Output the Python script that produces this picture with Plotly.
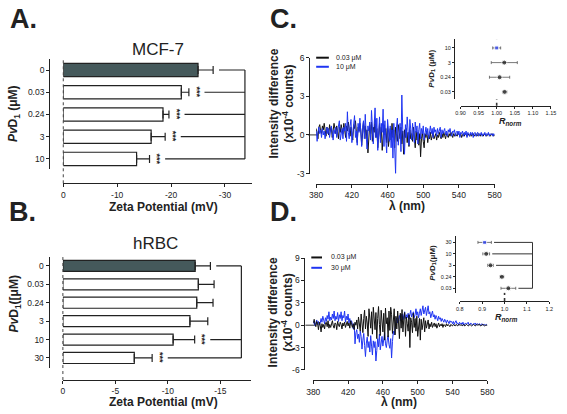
import plotly.graph_objects as go

W, H = 567, 414
FONT = "Liberation Sans, Arial, sans-serif"
INK = "#222222"
BLUE = "#1f35f2"
DARK = "#45595b"

# ---------------- data ----------------
# Panel A (MCF-7)
mcf_conc = ["0", "0.03", "0.24", "3", "10"]
mcf_zeta = [-25.0, -21.9, -18.5, -16.3, -13.6]
mcf_err = [2.8, 1.4, 1.1, 2.6, 2.4]
mcf_sig = ["", "***", "***", "***", "***"]
mcf_linked = [True, True, True, True, True]

# Panel B (hRBC)
rbc_conc = ["0", "0.03", "0.24", "3", "10", "30"]
rbc_zeta = [-12.6, -12.9, -12.75, -12.1, -10.5, -6.8]
rbc_err = [1.45, 1.5, 1.55, 1.7, 2.05, 1.7]
rbc_sig = ["", "", "", "", "***", "***"]
rbc_linked = [True, False, False, False, True, True]

# Spectra (x10^-4 counts), wavelength 380..580 nm, 1 nm step
wl = list(range(380, 581))
c_low = [0.5, 0.2, -0.3, 0.6, 0.8, 0.3, 0.1, 0.7, 0.4, 0.9,
         0.2, -0.1, 0.6, 0.5, 0.0, 0.8, 0.3, 0.6, -0.2, 0.4,
         0.9, 0.5, 0.1, 0.7, 0.3, -0.3, 0.6, 0.2, 0.8, 0.4,
         0.1, 0.9, 0.5, -0.2, 0.7, 0.3, 1.0, 0.4, -0.1, 0.6,
         0.2, -0.4, 0.8, 0.5, 1.1, 0.1, -0.6, 0.6, 0.3, 0.9,
         0.4, -0.8, 0.5, 1.0, 0.2, 0.7, -0.3, 0.4, -1.4, 0.3,
         0.8, 0.1, 1.0, -0.5, 0.6, 0.2, 1.2, -0.2, 0.5, -1.0,
         0.4, 0.9, -0.3, 0.6, -1.2, 0.3, 0.8, 0.0, 0.5, -0.6,
         0.7, -0.9, 0.3, 0.5, -0.4, 0.9, -0.2, 0.4, -1.0, 0.6,
         0.1, -0.5, 0.8, 0.2, -0.3, 0.6, -0.7, 0.3, -1.5, 0.4,
         -0.2, 0.5, -0.6, 0.2, -0.9, 0.4, -0.3, 0.1, -0.5, 0.6,
         -0.1, -1.0, 0.3, -0.4, 0.2, -0.8, 0.1, -1.7, -0.3, 0.2,
         -0.5, -1.0, 0.1, -0.2, 0.3, -0.6, 0.0, -0.3, 0.2, -0.4,
         -0.1, 0.2, -0.3, -0.1, 0.1, -0.4, 0.0, -0.2, 0.2, -0.1,
         -0.3, 0.1, -0.2, 0.2, -0.1, -0.3, 0.1, 0.0, -0.2, 0.1,
         -0.1, 0.2, 0.0, -0.2, 0.1, -0.1, 0.1, 0.0, -0.1, 0.2,
         0.0, -0.1, 0.1, -0.2, 0.0, 0.1, -0.1, 0.1, 0.0, -0.1,
         0.1, 0.0, -0.1, 0.1, -0.1, 0.0, 0.1, -0.1, 0.0, 0.1,
         -0.1, 0.0, 0.1, 0.0, -0.1, 0.1, 0.0, -0.1, 0.0, 0.1,
         0.0, -0.1, 0.0, 0.1, 0.0, -0.1, 0.0, 0.1, 0.0, -0.1,
         0.0]
c_high = [0.3, -0.5, 0.2, 0.6, 0.1, 0.4, -0.2, 0.5, 0.0, 0.3,
          -0.3, 0.4, 0.6, 0.1, 0.5, -0.2, 0.3, 0.7, 0.2, -0.4,
          0.4, 0.1, 0.6, -0.2, 0.3, 0.8, 1.1, -0.4, 0.2, 0.5,
          -0.3, 0.6, 0.3, 0.9, -0.5, 1.8, 0.2, -0.3, 0.7, 1.2,
          -0.6, 0.5, 0.8, 1.5, -0.2, 0.3, -0.8, 0.9, 0.2, 1.3,
          0.4, -0.9, 0.6, 1.1, -0.3, 1.6, 0.0, -1.1, 0.7, 0.3,
          1.0, -0.4, 1.9, 0.2, -0.7, 0.8, 2.1, -0.2, 1.3, -1.2,
          0.5, 1.4, -0.6, 0.9, 0.2, 2.0, -0.9, 1.1, -0.4, -1.4,
          1.2, 0.3, -0.5, 0.7, -1.0, 0.4, -1.8, 0.9, -1.2, -3.0,
          0.6, 1.3, -0.8, 0.2, 0.9, -1.3, 3.1, 0.4, -0.6, -1.5,
          0.8, -0.2, 1.4, 0.3, -0.8, 1.2, 0.1, -0.4, 0.9, 0.3,
          -0.6, 1.0, 0.2, 0.7, -0.7, 0.4, 0.9, -0.3, 0.5, 0.1,
          0.7, -0.4, 0.3, 0.6, 0.0, 0.5, -0.3, 0.4, 0.7, 0.1,
          0.5, -0.2, 0.6, 0.2, 0.4, -0.1, 0.5, 0.1, 0.3, 0.6,
          -0.2, 0.4, 0.1, 0.3, 0.5, 0.0, 0.3, -0.1, 0.4, 0.2,
          0.5, 0.1, -0.1, 0.3, 0.2, 0.4, -0.1, 0.2, 0.3, 0.0,
          0.3, -0.2, 0.2, 0.1, 0.3, -0.1, 0.2, 0.0, 0.3, -0.2,
          0.2, 0.1, -0.1, 0.2, 0.0, 0.2, -0.2, 0.1, 0.2, -0.1,
          0.1, 0.2, -0.1, 0.1, 0.0, 0.2, -0.1, 0.1, 0.0, 0.2,
          -0.1, 0.1, 0.0, 0.2, -0.1, 0.1, 0.0, 0.1, -0.1, 0.1,
          0.0]
d_low = [0.3, 0.8, 0.1, -0.2, 0.5, 0.2, -0.6, 0.4, 0.0, -0.9,
         0.2, -0.3, 0.1, -0.5, 0.3, 0.4, -0.2, 0.6, -0.4, 0.1,
         -0.3, 0.2, 0.6, -0.1, -0.4, 0.3, 0.2, -0.6, 0.5, 0.0,
         -0.2, 0.4, 0.1, -0.5, 0.3, -0.1, 0.4, -0.3, 0.2, 0.5,
         -0.1, 0.3, -0.4, 0.6, 0.1, -0.3, 0.2, -0.6, 0.4, 0.0,
         0.7, -0.5, 1.1, 0.2, -0.8, 1.5, 0.4, -1.0, 0.9, 2.0,
         -0.5, 1.2, 0.3, -1.5, 2.2, 0.6, -0.4, 1.8, -1.2, 2.4,
         0.3, -0.6, 1.7, -1.8, 0.9, 2.5, 0.1, -1.4, 2.0, 0.5,
         -0.9, 1.6, -2.0, 2.3, 0.2, 1.0, -1.6, 1.9, -0.7, 2.4,
         1.4, -1.1, 0.6, 2.2, -1.3, 1.2, -0.5, 1.9, 0.3, -1.8,
         1.6, -0.4, 2.1, -0.9, 0.8, 1.7, -1.5, 1.1, 0.2, -0.8,
         1.4, -3.0, 1.0, 0.4, -1.0, 1.6, -0.3, 0.9, -0.8, 1.2,
         -1.5, 0.5, 0.9, -2.0, 0.8, -0.6, 0.4, 1.0, -0.9, 0.6,
         -0.4, 0.3, 0.7, -0.5, 0.2, -0.2, 0.4, -0.3, 0.1, 0.3,
         -0.2, 0.2, -0.4, 0.1, 0.3, -0.2, 0.1, -0.1, 0.2, -0.3,
         0.1, 0.0, -0.2, 0.2, -0.1, 0.1, 0.0, -0.2, 0.1, 0.0,
         -0.1, 0.1, 0.0, -0.1, 0.1, 0.0, -0.1, 0.1, 0.0, 0.0,
         0.1, -0.1, 0.0, 0.1, -0.1, 0.0, 0.1, 0.0, -0.1, 0.0,
         0.1, 0.0, -0.1, 0.0, 0.1, 0.0, -0.1, 0.0, 0.1, 0.0,
         0.0, 0.1, -0.1, 0.0, 0.0, 0.1, 0.0, -0.1, 0.0, 0.0,
         0.0]
d_high = [0.2, 0.6, -0.1, 0.4, 0.7, 0.1, 0.5, 0.0, 0.3, 0.9,
          0.4, 1.2, 0.6, 0.2, 1.0, 0.5, 1.3, 0.8, 1.8, 0.6,
          1.1, 0.7, 1.5, 0.9, 1.9, 0.6, 1.2, 0.8, 1.7, 0.5,
          1.4, 0.9, 1.8, 0.6, 1.3, 1.0, 1.9, 0.4, 1.2, 0.7,
          1.5, 0.3, 0.9, 0.1, 0.6, -0.2, -0.5, 0.2, -2.5, -1.0,
          -0.6, -1.8, -1.2, -2.3, -0.8, -1.5, -3.2, -2.0, -1.1, -2.7,
          -4.2, -2.4, -1.6, -3.0, -2.2, -3.6, -1.4, -2.8, -4.0, -2.1,
          -3.0, -2.2, -4.8, -3.4, -1.8, -2.9, -1.2, -3.3, -2.4, -1.5,
          -2.8, -1.9, -1.0, -2.5, -3.0, -2.0, -1.4, -2.6, -3.1, -1.8,
          -4.4, -2.2, -0.8, -1.3, 0.2, 0.5, 1.0, 0.3, 0.8, 1.3,
          0.6, 1.0, 1.5, 0.7, 1.2, 1.8, 0.9, 1.4, 1.0, 1.6,
          0.8, 1.3, 2.0, 1.1, 1.5, 1.8, 1.0, 1.4, 2.2, 1.3,
          1.8, 1.0, 1.6, 2.2, 1.3, 1.9, 2.6, 1.5, 2.1, 2.4,
          1.3, 1.9, 2.6, 1.5, 1.8, 1.0, 1.4, 1.9, 1.1, 1.4,
          0.8, 1.3, 1.0, 0.6, 1.2, 0.8, 1.0, 0.5, 0.9, 0.7,
          0.4, 0.8, 0.6, 0.3, 0.7, 0.5, 0.2, 0.6, 0.4, 0.5,
          0.2, 0.5, 0.1, 0.4, 0.6, 0.2, 0.3, 0.0, 0.4, 0.2,
          0.3, 0.1, 0.4, 0.0, 0.2, 0.3, 0.1, 0.2, 0.4, 0.0,
          0.2, 0.3, 0.1, 0.0, 0.2, 0.1, 0.3, 0.0, 0.2, 0.1,
          0.1, 0.2, 0.0, 0.1, 0.2, 0.0, 0.1, 0.1, 0.0, 0.1,
          0.0]
c_legend = ["0.03 μM", "10 μM"]
d_legend = ["0.03 μM", "30 μM"]

# Insets (R_norm)
ci_conc = ["10", "3", "0.24", "0.03"]
ci_r = [1.000, 1.021, 1.008, 1.022]
ci_err = [0.011, 0.036, 0.028, 0.006]
di_conc = ["30", "10", "3", "0.24", "0.03"]
di_r = [0.911, 0.918, 0.937, 0.988, 1.017]
di_err = [0.030, 0.015, 0.013, 0.008, 0.033]
di_linked = [True, True, True, False, True]


# ---------------- helpers ----------------
def px(p):
    return p / W


def py(p):
    return 1 - p / H


def xaxis(d0, d1, rng, pos, tv, tt, fs, lw=1.2, tl=3):
    return dict(domain=[px(d0), px(d1)], range=rng, anchor="free", position=py(pos),
                showline=True, linecolor=INK, linewidth=lw, ticks="outside", ticklen=tl,
                tickwidth=lw, tickcolor=INK, tickvals=tv, ticktext=tt,
                tickfont=dict(size=fs, family=FONT, color=INK),
                showgrid=False, zeroline=False, fixedrange=True)


def yaxis(d0, d1, rng, pos, tv, tt, fs, lw=1.2, tl=3):
    return dict(domain=[py(d1), py(d0)], range=rng, anchor="free", position=px(pos),
                showline=True, linecolor=INK, linewidth=lw, ticks="outside", ticklen=tl,
                tickwidth=lw, tickcolor=INK, tickvals=tv, ticktext=tt,
                tickfont=dict(size=fs, family=FONT, color=INK),
                showgrid=False, zeroline=False, fixedrange=True)


fig = go.Figure()
shapes = []
ann = []


def text(x, y, s, size, bold=False, xa="center", ya="middle", angle=0, xref="paper", yref="paper",
         color=INK):
    t = "<b>" + s + "</b>" if bold else s
    ann.append(dict(x=x, y=y, xref=xref, yref=yref, text=t, showarrow=False, xanchor=xa,
                    yanchor=ya, textangle=angle, font=dict(size=size, family=FONT, color=color)))


# ---------------- bar panels ----------------
def bar_panel(ax, conc, zeta, err, sig, linked, ppu, bracket_x):
    n = len(conc)
    idx = list(range(n))
    fig.add_trace(go.Bar(
        x=zeta, y=idx, orientation="h", width=0.6,
        marker=dict(color=[DARK] + ["white"] * (n - 1), line=dict(color=INK, width=1.2)),
        error_x=dict(type="data", symmetric=False, array=[0] * n, arrayminus=err,
                     color=INK, thickness=1.2, width=4),
        xaxis="x" + ax, yaxis="y" + ax, showlegend=False, hoverinfo="skip"))
    shapes.append(dict(type="line", xref="x%s domain" % ax, yref="paper", x0=0, x1=0,
                       y0=fig.layout["xaxis" + ax].position, y1=fig.layout["yaxis" + ax].domain[1],
                       line=dict(color="#444", width=1, dash="dot")))
    ends = []
    for i in idx:
        end = zeta[i] - err[i]
        if sig[i]:
            sx = end - 8.0 / ppu
            text(sx, i, sig[i], 9, bold=True, angle=90, xref="x" + ax, yref="y" + ax)
            start = sx - 8.0 / ppu
        else:
            start = end - 6.0 / ppu
        if linked[i]:
            shapes.append(dict(type="line", xref="x" + ax, yref="y" + ax, x0=start, x1=bracket_x,
                               y0=i, y1=i, line=dict(color=INK, width=1.2)))
            ends.append(i)
    shapes.append(dict(type="line", xref="x" + ax, yref="y" + ax, x0=bracket_x, x1=bracket_x,
                       y0=min(ends), y1=max(ends), line=dict(color=INK, width=1.2)))


fig.update_layout(
    xaxis=xaxis(57.7, 251.7, [0, -35.1], 182.7, [0, -10, -20, -30], ["0", "-10", "-20", "-30"], 8.5),
    yaxis=yaxis(55, 168, [4.45, -0.51], 43.3, list(range(len(mcf_conc))), mcf_conc, 8.5),
    xaxis2=xaxis(57.3, 250, [0, -17.9], 384.3, [0, -5, -10, -15], ["0", "-5", "-10", "-15"], 8.5),
    yaxis2=yaxis(258.3, 371.7, [5.53, -0.48], 42.7, list(range(len(rbc_conc))), rbc_conc, 8.5),
    xaxis3=xaxis(317, 500, [380, 580], 183.3, [380, 420, 460, 500, 540, 580], None, 8.5),
    yaxis3=yaxis(54, 172.7, [-3, 6], 310, [-3, 0, 3, 6], ["-3", "0", "3", "6"], 8.5),
    xaxis4=xaxis(314, 492.5, [380, 580], 384.5, [380, 420, 460, 500, 540, 580], None, 8.5),
    yaxis4=yaxis(259.3, 374, [-6, 9], 305, [-6, -3, 0, 3, 6, 9], ["-6", "-3", "0", "3", "6", "9"], 8.5),
    xaxis5=xaxis(465, 557.7, [0.90, 1.15], 103.3, [0.90, 0.95, 1.00, 1.05, 1.10, 1.15],
                 ["0.90", "0.95", "1.00", "1.05", "1.10", "1.15"], 5.5, lw=1, tl=2),
    yaxis5=yaxis(35, 96.7, [3.51, -0.6], 458.3, list(range(len(ci_conc))), ci_conc, 5.5, lw=1, tl=2),
    xaxis6=xaxis(464.3, 556, [0.8, 1.2], 303.3, [0.8, 0.9, 1.0, 1.1, 1.2],
                 ["0.8", "0.9", "1.0", "1.1", "1.2"], 5.5, lw=1, tl=2),
    yaxis6=yaxis(236.7, 295, [4.4, -0.56], 459, list(range(len(di_conc))), di_conc, 5.5, lw=1, tl=2),
)

bar_panel("", mcf_conc, mcf_zeta, mcf_err, mcf_sig, mcf_linked, (251.7 - 57.7) / 35.1, -33.7)
bar_panel("2", rbc_conc, rbc_zeta, rbc_err, rbc_sig, rbc_linked, (250 - 57.3) / 17.9, -17.0)

# ---------------- spectra ----------------
fig.add_trace(go.Scatter(x=wl, y=c_low, mode="lines", line=dict(color="#111111", width=1),
                         xaxis="x3", yaxis="y3", showlegend=False, hoverinfo="skip"))
fig.add_trace(go.Scatter(x=wl, y=c_high, mode="lines", line=dict(color=BLUE, width=1),
                         xaxis="x3", yaxis="y3", showlegend=False, hoverinfo="skip"))
fig.add_trace(go.Scatter(x=wl, y=d_high, mode="lines", line=dict(color=BLUE, width=1),
                         xaxis="x4", yaxis="y4", showlegend=False, hoverinfo="skip"))
fig.add_trace(go.Scatter(x=wl, y=d_low, mode="lines", line=dict(color="#111111", width=1),
                         xaxis="x4", yaxis="y4", showlegend=False, hoverinfo="skip"))

for ax in ("3", "4"):
    shapes.append(dict(type="line", xref="x%s domain" % ax, yref="y" + ax, x0=-0.045, x1=0.02,
                       y0=0, y1=0, line=dict(color="#333", width=1, dash="dash"), layer="below"))

for (x0, x1, xt, ys, labels) in ((317, 330, 335, (54, 63.3), c_legend),
                                 (312, 323, 330, (258.7, 269.3), d_legend)):
    for y, lab, col in zip(ys, labels, ("#111111", BLUE)):
        shapes.append(dict(type="line", xref="paper", yref="paper", x0=px(x0), x1=px(x1),
                           y0=py(y), y1=py(y), line=dict(color=col, width=2)))
        text(px(xt), py(y), lab, 7, xa="left")

# ---------------- insets ----------------
fig.add_trace(go.Scatter(
    x=ci_r, y=list(range(len(ci_conc))), mode="markers",
    marker=dict(size=[4] + [5] * (len(ci_conc) - 1), color=[BLUE] + ["#111"] * (len(ci_conc) - 1),
                symbol=["square"] + ["circle"] * (len(ci_conc) - 1)),
    error_x=dict(type="data", array=ci_err, color="#555", thickness=0.8, width=1.5),
    xaxis="x5", yaxis="y5", showlegend=False, hoverinfo="skip"))
fig.add_trace(go.Scatter(
    x=di_r, y=list(range(len(di_conc))), mode="markers",
    marker=dict(size=[4] + [5] * (len(di_conc) - 1), color=[BLUE] + ["#111"] * (len(di_conc) - 1),
                symbol=["square"] + ["circle"] * (len(di_conc) - 1)),
    error_x=dict(type="data", array=di_err, color="#555", thickness=0.8, width=1.5),
    xaxis="x6", yaxis="y6", showlegend=False, hoverinfo="skip"))

for ax in ("5", "6"):
    shapes.append(dict(type="line", xref="x" + ax, yref="paper", x0=1.0, x1=1.0,
                       y0=fig.layout["xaxis" + ax].position, y1=fig.layout["yaxis" + ax].domain[1],
                       line=dict(color="#333", width=1.6, dash="dot"), layer="below"))

di_bracket = 1.125
di_ends = []
for i, on in enumerate(di_linked):
    if on:
        start = di_r[i] + di_err[i] + 0.012
        shapes.append(dict(type="line", xref="x6", yref="y6", x0=start, x1=di_bracket, y0=i, y1=i,
                           line=dict(color="#333", width=1)))
        di_ends.append(i)
shapes.append(dict(type="line", xref="x6", yref="y6", x0=di_bracket, x1=di_bracket,
                   y0=min(di_ends), y1=max(di_ends), line=dict(color="#333", width=1)))

# ---------------- texts ----------------
text(px(17), py(14), "A.", 27, bold=True)
text(px(16), py(212), "B.", 27, bold=True)
text(px(284), py(14), "C.", 27, bold=True)
text(px(284), py(212), "D.", 27, bold=True)

text(px(155), py(46), "MCF-7", 17)
text(px(152), py(244), "hRBC", 17)

text(px(160), py(206.5), "Zeta Potential (mV)", 12, bold=True)
text(px(160), py(406.5), "Zeta Potential (mV)", 12, bold=True)

text(px(8), py(111), "<i>Pv</i>D<sub>1</sub> (μM)", 12, bold=True, angle=-90)
text(px(8), py(306), "<i>Pv</i>D<sub>1</sub>([μM)", 12, bold=True, angle=-90)

text(px(281), py(101), "Intensity difference<br>(x10<sup>-4</sup> counts)", 12, bold=True, angle=-90)
text(px(281), py(315), "Intensity difference<br>(x10<sup>-4</sup> counts)", 12, bold=True, angle=-90)

text(px(410), py(205.5), "λ (nm)", 12, bold=True)
text(px(402), py(406.5), "λ (nm)", 12, bold=True)

text(px(436), py(65), "<i>Pv</i>D<sub>1</sub> (μM)", 8, bold=True, angle=-90)
text(px(436), py(264), "<i>Pv</i>D<sub>1</sub>(μM)", 8, bold=True, angle=-90)
text(px(516.7), py(119), "<i>R<sub>norm</sub></i>", 9, bold=True)
text(px(511.7), py(320), "<i>R<sub>norm</sub></i>", 9, bold=True)

fig.update_layout(
    width=W, height=H, margin=dict(l=0, r=0, t=0, b=0),
    paper_bgcolor="white", plot_bgcolor="white",
    font=dict(family=FONT, color=INK),
    shapes=shapes, annotations=ann, showlegend=False, bargap=0.4,
)

fig.write_html("out.html", config={"displayModeBar": False},
               post_script="document.body.style.margin='0';document.body.style.overflow='hidden';")
